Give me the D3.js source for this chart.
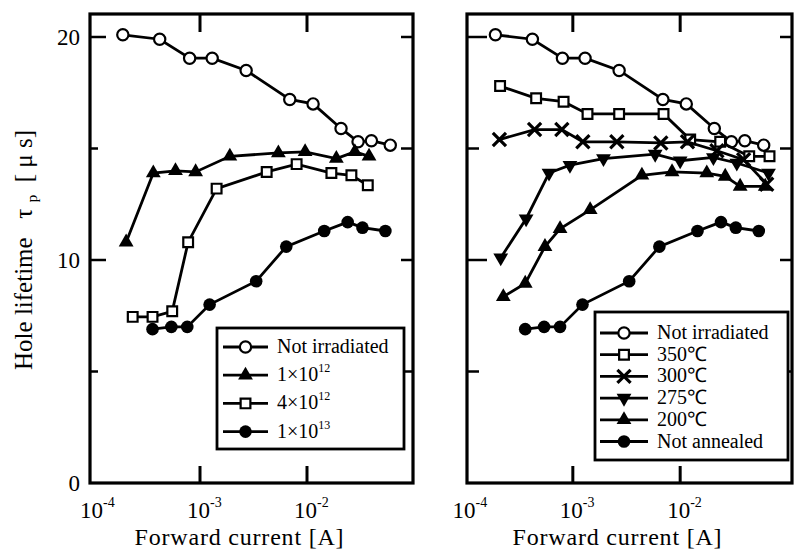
<!DOCTYPE html>
<html>
<head>
<meta charset="utf-8">
<script src="https://cdn.jsdelivr.net/npm/d3@7"></script>
<style>
body { margin: 0; background: #fff; }
</style>
</head>
<body>
<div id="chart"></div>
<script>
// forward current [A] / hole lifetime [us]
var notIrrI = [1.9e-4, 4.2e-4, 8.0e-4, 1.3e-3, 2.7e-3, 6.9e-3, 1.14e-2, 2.08e-2, 3.0e-2, 4.0e-2, 6.0e-2];
var notIrrT = [20.1, 19.9, 19.05, 19.05, 18.5, 17.2, 17.0, 15.9, 15.3, 15.35, 15.15];

var d1e12I = [2.04e-4, 3.66e-4, 5.9e-4, 9.1e-4, 1.9e-3, 5.4e-3, 9.6e-3, 1.88e-2, 2.8e-2, 3.8e-2];
var d1e12T = [10.8, 13.9, 14.0, 13.95, 14.65, 14.8, 14.85, 14.55, 14.85, 14.65];

var d4e12I = [2.35e-4, 3.6e-4, 5.5e-4, 7.75e-4, 1.43e-3, 4.2e-3, 8.0e-3, 1.69e-2, 2.6e-2, 3.7e-2];
var d4e12T = [7.45, 7.45, 7.7, 10.8, 13.2, 13.95, 14.3, 13.9, 13.8, 13.35];

// 1x10^13, same curve is "Not annealed" on the right
var d1e13I = [3.6e-4, 5.4e-4, 7.6e-4, 1.23e-3, 3.35e-3, 6.4e-3, 1.45e-2, 2.4e-2, 3.3e-2, 5.4e-2];
var d1e13T = [6.9, 7.0, 7.0, 8.0, 9.05, 10.6, 11.3, 11.7, 11.45, 11.3];

var a350I = [2.1e-4, 4.55e-4, 8.2e-4, 1.37e-3, 2.7e-3, 7.0e-3, 1.24e-2, 2.36e-2, 4.4e-2, 6.8e-2];
var a350T = [17.8, 17.25, 17.1, 16.55, 16.55, 16.55, 15.4, 15.3, 14.65, 14.65];

var a300I = [2.07e-4, 4.4e-4, 7.9e-4, 1.24e-3, 2.57e-3, 6.6e-3, 1.17e-2, 2.2e-2, 3.9e-2, 6.4e-2];
var a300T = [15.4, 15.85, 15.85, 15.3, 15.3, 15.25, 15.3, 14.9, 14.5, 13.4];

var a275I = [2.13e-4, 3.67e-4, 6.0e-4, 9.4e-4, 1.93e-3, 5.85e-3, 1.0e-2, 2.04e-2, 3.37e-2, 6.65e-2];
var a275T = [10.1, 11.85, 13.9, 14.25, 14.55, 14.75, 14.45, 14.6, 14.35, 13.9];

var a200I = [2.25e-4, 3.6e-4, 5.5e-4, 7.6e-4, 1.45e-3, 4.4e-3, 8.4e-3, 1.77e-2, 2.63e-2, 3.62e-2, 6.2e-2];
var a200T = [8.35, 8.95, 10.6, 11.4, 12.25, 13.8, 13.95, 13.9, 13.75, 13.3, 13.3];

var xTickExps = [-4, -3, -2];
var yTickVals = [0, 5, 10, 15, 20];
var yLabelVals = [0, 10, 20];

var W = 794, H = 551;
var frameTop = 14, frameBottom = 483;
var serif = "Liberation Serif";

var svg = d3.select("#chart")
    .append("svg")
    .attr("width", W)
    .attr("height", H)
    .style("font-family", serif);

var y = d3.scaleLinear().domain([0, 20]).range([483, 37]);

function pts(I, T) {
    return I.map((v, i) => { return { i: v, t: T[i] }; });
}

function txt(g) {
    return g.append("text").style("font-family", serif).attr("fill", "#000");
}

// marker styles
var markers = {
    circleOpen: { type: d3.symbolCircle, size: 100, fill: "#fff", stroke: 2.2, rot: 0 },
    circleFilled: { type: d3.symbolCircle, size: 125, fill: "#000", stroke: 0, rot: 0 },
    squareOpen: { type: d3.symbolSquare, size: 95, fill: "#fff", stroke: 2.2, rot: 0 },
    triUp: { type: d3.symbolTriangle, size: 95, fill: "#000", stroke: 0, rot: 0 },
    triDown: { type: d3.symbolTriangle, size: 95, fill: "#000", stroke: 0, rot: 180 },
    times: { type: d3.symbolTimes, size: 115, fill: "none", stroke: 3.2, rot: 0 }
};

function drawMarker(g, m, cx, cy) {
    var s = markers[m];
    g.append("path")
        .attr("d", d3.symbol().type(s.type).size(s.size)())
        .attr("transform", "translate(" + cx + "," + cy + ") rotate(" + s.rot + ")")
        .attr("fill", s.fill)
        .attr("stroke", "#000")
        .attr("stroke-width", s.stroke);
}

var panels = [
    {
        left: 90, right: 413, xr: [93, 414], yLabels: true,
        series: [
            { name: "Not irradiated", data: pts(notIrrI, notIrrT), m: "circleOpen" },
            { name: "1e12", data: pts(d1e12I, d1e12T), m: "triUp" },
            { name: "4e12", data: pts(d4e12I, d4e12T), m: "squareOpen" },
            { name: "1e13", data: pts(d1e13I, d1e13T), m: "circleFilled" }
        ],
        legend: { x: 217, y: 328, w: 187, h: 121, row0: 347, dy: 28.2, lx: [223, 268], tx: 277 }
    },
    {
        left: 467, right: 792, xr: [465.5, 787.5], yLabels: false,
        series: [
            { name: "Not irradiated", data: pts(notIrrI, notIrrT), m: "circleOpen" },
            { name: "350℃", data: pts(a350I, a350T), m: "squareOpen" },
            { name: "300℃", data: pts(a300I, a300T), m: "times" },
            { name: "275℃", data: pts(a275I, a275T), m: "triDown" },
            { name: "200℃", data: pts(a200I, a200T), m: "triUp" },
            { name: "Not annealed", data: pts(d1e13I, d1e13T), m: "circleFilled" }
        ],
        legend: { x: 595, y: 312, w: 193, h: 148, row0: 333, dy: 21.7, lx: [600, 648], tx: 657 }
    }
];

panels.forEach(p => {
    var x = d3.scaleLog().domain([1e-4, 1e-1]).range(p.xr);
    var g = svg.append("g");

    // series
    var line = d3.line().x(d => x(d.i)).y(d => y(d.t));
    p.series.forEach(s => {
        g.append("path")
            .datum(s.data)
            .attr("d", line)
            .attr("fill", "none")
            .attr("stroke", "#000")
            .attr("stroke-width", 2.8);
        s.data.forEach(d => { drawMarker(g, s.m, x(d.i), y(d.t)); });
    });

    // frame
    g.append("rect")
        .attr("x", p.left).attr("y", frameTop)
        .attr("width", p.right - p.left).attr("height", frameBottom - frameTop)
        .attr("fill", "none").attr("stroke", "#000").attr("stroke-width", 3.2);

    // x ticks (inward, top and bottom)
    [1e-3, 1e-2].forEach(v => {
        g.append("line").attr("x1", x(v)).attr("x2", x(v))
            .attr("y1", frameBottom).attr("y2", frameBottom - 17)
            .attr("stroke", "#000").attr("stroke-width", 3);
        g.append("line").attr("x1", x(v)).attr("x2", x(v))
            .attr("y1", frameTop).attr("y2", frameTop + 18)
            .attr("stroke", "#000").attr("stroke-width", 3);
    });

    // y ticks
    yTickVals.filter(v => v > 0).forEach(v => {
        var major = v % 10 === 0;
        var lenL = p.yLabels ? (major ? 16 : 8) : (major ? 20 : 12);
        g.append("line").attr("x1", p.left).attr("x2", p.left + lenL)
            .attr("y1", y(v)).attr("y2", y(v))
            .attr("stroke", "#000").attr("stroke-width", 2.5);
        g.append("line").attr("x1", p.right).attr("x2", p.right - 12)
            .attr("y1", y(v)).attr("y2", y(v))
            .attr("stroke", "#000").attr("stroke-width", 2.5);
    });

    // x tick labels
    xTickExps.forEach(e => {
        var t = txt(g)
            .attr("x", x(Math.pow(10, e)) - 13)
            .attr("y", 518)
            .style("font-size", "23px");
        t.append("tspan").text("10");
        t.append("tspan").attr("dy", -11).style("font-size", "14px").text("-" + Math.abs(e));
    });

    if (p.yLabels) {
        yLabelVals.forEach(v => {
            txt(g)
                .attr("x", 80).attr("y", y(v) + 8)
                .attr("text-anchor", "end")
                .style("font-size", "23px")
                .text(v);
        });
    }

    txt(g)
        .attr("x", (p.left + p.right) / 2 - 12)
        .attr("y", 545)
        .attr("text-anchor", "middle")
        .style("font-size", "24px")
        .style("letter-spacing", "0.8px")
        .text("Forward current [A]");

    // legend
    var L = p.legend;
    var lg = g.append("g");
    lg.append("rect")
        .attr("x", L.x).attr("y", L.y).attr("width", L.w).attr("height", L.h)
        .attr("fill", "#fff").attr("stroke", "#000").attr("stroke-width", 2.8);
    p.series.forEach((s, i) => {
        var ry = L.row0 + i * L.dy;
        lg.append("line").attr("x1", L.lx[0]).attr("x2", L.lx[1])
            .attr("y1", ry).attr("y2", ry)
            .attr("stroke", "#000").attr("stroke-width", 2.8);
        drawMarker(lg, s.m, (L.lx[0] + L.lx[1]) / 2, ry);
        var t = txt(lg)
            .attr("x", L.tx).attr("y", ry + 6)
            .style("font-size", "20px");
        var m = s.name.match(/^(\d)e(\d+)$/);
        if (m) {
            t.append("tspan").text(m[1] + "×10");
            t.append("tspan").attr("dy", -9).style("font-size", "12px").text(m[2]);
        } else {
            t.text(s.name);
        }
    });
});

// y axis title
var yt = txt(svg)
    .attr("transform", "translate(32,250) rotate(-90)")
    .attr("text-anchor", "middle")
    .style("font-size", "25px")
    .style("white-space", "pre");
yt.append("tspan").text("Hole lifetime   τ ");
yt.append("tspan").attr("dy", 5).style("font-size", "15px").text("p");
yt.append("tspan").attr("dy", -5).text("  [ μ s]");
</script>
</body>
</html>
